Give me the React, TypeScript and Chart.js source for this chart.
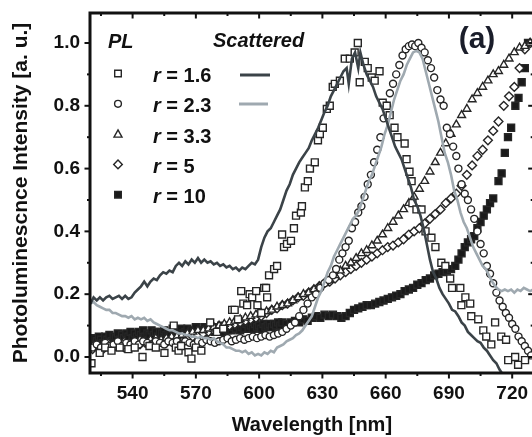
import React, { useEffect, useRef } from 'react';
import { Chart, registerables } from 'chart.js';

Chart.register(...registerables);

const FONT = "'Liberation Sans', Arial, Helvetica, sans-serif";

// ---- axis ticks ----
const xMajorTicks = [540, 570, 600, 630, 660, 690, 720];
const xMinorTicks = [525, 555, 585, 615, 645, 675, 705];
const yMajorTicks = [0, 0.2, 0.4, 0.6, 0.8, 1.0];
const yMinorTicks = [0.1, 0.3, 0.5, 0.7, 0.9];

// ---- legend labels ----
const legendRadii = ['1.6', '2.3', '3.3', '5', '10'];

// ---- Scattered spectrum, r = 1.6 (dark line) ----
const scattered16: [number, number][] = [
  [520, 0.17], [521.5, 0.19], [523, 0.18], [524.5, 0.19], [526, 0.18], [527.5, 0.19], [529, 0.195], [530.5, 0.185],
  [532, 0.19], [533.5, 0.195], [535, 0.185], [536.5, 0.195], [538, 0.185], [539.5, 0.19], [541, 0.205], [542.5, 0.215],
  [544, 0.225], [545.5, 0.24], [547, 0.225], [548.5, 0.24], [550, 0.25], [551.5, 0.245], [553, 0.26], [554.5, 0.27],
  [556, 0.265], [557.5, 0.275], [559, 0.27], [560.5, 0.29], [562, 0.3], [563.5, 0.29], [565, 0.305], [566.5, 0.295],
  [568, 0.31], [569.5, 0.3], [571, 0.315], [572.5, 0.3], [574, 0.31], [575.5, 0.3], [577, 0.305], [578.5, 0.295],
  [580, 0.3], [581.5, 0.29], [583, 0.295], [584.5, 0.285], [586, 0.29], [587.5, 0.28], [589, 0.285], [590.5, 0.275],
  [592, 0.285], [593.5, 0.28], [595, 0.29], [596.5, 0.3], [598, 0.295], [599.5, 0.31], [601, 0.35], [602.5, 0.38],
  [604, 0.4], [605.5, 0.41], [607, 0.43], [608.5, 0.45], [610, 0.47], [611.5, 0.5], [613, 0.53], [614.5, 0.55],
  [616, 0.58], [617.5, 0.6], [619, 0.62], [620.5, 0.635], [622, 0.65], [623.5, 0.665], [625, 0.69], [626.5, 0.71],
  [628, 0.73], [629.5, 0.755], [631, 0.78], [632.5, 0.8], [634, 0.83], [635.5, 0.85], [637, 0.87], [638.5, 0.89],
  [640, 0.91], [641.5, 0.92], [642.5, 0.87], [644, 0.95], [645.5, 0.97], [647, 0.92], [648, 0.97], [649.5, 0.93],
  [651, 0.9], [652.5, 0.88], [654, 0.86], [655.5, 0.83], [657, 0.81], [658.5, 0.79], [660, 0.76], [661.5, 0.73],
  [663, 0.7], [664.5, 0.67], [666, 0.65], [667.5, 0.63], [669, 0.6], [670.5, 0.57], [672, 0.54], [673.5, 0.5],
  [675, 0.48], [676.5, 0.45], [678, 0.41], [679.5, 0.36], [681, 0.31], [682.5, 0.27], [684, 0.25], [685.5, 0.22],
  [687, 0.2], [688.5, 0.185], [690, 0.17], [691.5, 0.15], [693, 0.145], [694.5, 0.13], [696, 0.11], [697.5, 0.1],
  [699, 0.08], [700.5, 0.07], [702, 0.06], [703.5, 0.05], [705, 0.045], [706.5, 0.03], [708, 0.02], [709.5, 0.005],
  [711, -0.01], [712.5, -0.02], [714, -0.04], [715, -0.05],
];

// ---- Scattered spectrum, r = 2.3 (light line) ----
const scattered23: [number, number][] = [
  [520, 0.17], [521.5, 0.175], [523, 0.165], [524.5, 0.16], [526, 0.155], [527.5, 0.15], [529, 0.15], [530.5, 0.14],
  [532, 0.14], [533.5, 0.135], [535, 0.13], [536.5, 0.13], [538, 0.125], [539.5, 0.13], [541, 0.12], [542.5, 0.125],
  [544, 0.12], [545.5, 0.125], [547, 0.115], [548.5, 0.12], [550, 0.11], [551.5, 0.105], [553, 0.1], [554.5, 0.095],
  [556, 0.09], [557.5, 0.085], [559, 0.085], [560.5, 0.08], [562, 0.075], [563.5, 0.075], [565, 0.07], [566.5, 0.07],
  [568, 0.065], [569.5, 0.065], [571, 0.06], [572.5, 0.065], [574, 0.06], [575.5, 0.06], [577, 0.055], [578.5, 0.06],
  [580, 0.05], [581.5, 0.045], [583, 0.04], [584.5, 0.03], [586, 0.03], [587.5, 0.025], [589, 0.02], [590.5, 0.02],
  [592, 0.015], [593.5, 0.02], [595, 0.01], [596.5, 0.015], [598, 0.005], [599.5, 0.01], [601, 0.005], [602.5, 0.015],
  [604, 0.01], [605.5, 0.02], [607, 0.015], [608.5, 0.03], [610, 0.035], [611.5, 0.04], [613, 0.05], [614.5, 0.055],
  [616, 0.06], [617.5, 0.07], [619, 0.075], [620.5, 0.085], [622, 0.1], [623.5, 0.115], [625, 0.13], [626.5, 0.16],
  [628, 0.19], [629.5, 0.21], [631, 0.24], [632.5, 0.27], [634, 0.29], [635.5, 0.32], [637, 0.34], [638.5, 0.36],
  [640, 0.38], [641.5, 0.4], [643, 0.42], [644.5, 0.44], [646, 0.45], [647.5, 0.47], [649, 0.5], [650.5, 0.53],
  [652, 0.56], [653.5, 0.58], [655, 0.61], [656.5, 0.64], [658, 0.67], [659.5, 0.71], [661, 0.74], [662.5, 0.78],
  [664, 0.82], [665.5, 0.85], [667, 0.88], [668.5, 0.9], [670, 0.93], [671.5, 0.95], [673, 0.97], [674.5, 0.975],
  [676, 0.97], [677.5, 0.95], [679, 0.91], [680.5, 0.87], [682, 0.83], [683.5, 0.79], [685, 0.75], [686.5, 0.7],
  [688, 0.65], [689.5, 0.62], [691, 0.58], [692.5, 0.53], [694, 0.5], [695.5, 0.46], [697, 0.43], [698.5, 0.41],
  [700, 0.38], [701.5, 0.35], [703, 0.33], [704.5, 0.31], [706, 0.29], [707.5, 0.28], [709, 0.26], [710.5, 0.24],
  [712, 0.225], [713.5, 0.215], [715, 0.21], [716.5, 0.215], [718, 0.21], [719.5, 0.215], [721, 0.205], [722.5, 0.215],
  [724, 0.21], [725.5, 0.22], [727, 0.215], [728.5, 0.21], [730, 0.215],
];

// ---- PL, r = 1.6 (open squares) ----
const pl16: [number, number][] = [
  [520.5, -0.02], [524.4, 0.013], [527, 0.03], [530, 0.02], [533.9, 0.03], [538, 0.025], [541, 0.03], [544.7, 0.0],
  [548, 0.035], [551, 0.03], [555.1, 0.013], [559.5, 0.1], [560.5, 0.03], [561.8, 0.02], [563, 0.035], [566.5, 0.015],
  [567.9, -0.005], [570, 0.03], [572.6, 0.02], [576.8, 0.11], [580, 0.08], [583, 0.09], [587.2, 0.15], [588.4, 0.15],
  [590, 0.12], [591.5, 0.21], [592.5, 0.17], [594.3, 0.165], [595.5, 0.2], [596.7, 0.19], [598.6, 0.21], [599.2, 0.165],
  [601, 0.14], [602.4, 0.22], [603.3, 0.22], [603.8, 0.19], [604.7, 0.26], [607.1, 0.28], [608.5, 0.29], [610.9, 0.39],
  [611.8, 0.35], [613.2, 0.36], [615.1, 0.37], [616.5, 0.41], [617.5, 0.45], [619.8, 0.46], [620.3, 0.48], [621.7, 0.54],
  [623.1, 0.56], [624.1, 0.6], [626.4, 0.62], [627.9, 0.69], [628.8, 0.71], [630.2, 0.73], [632.1, 0.79], [633.5, 0.8],
  [634.9, 0.86], [635.9, 0.87], [638.3, 0.88], [640.6, 0.95], [643, 0.95], [645.3, 0.97], [646.8, 1.0], [647.7, 0.875],
  [650.1, 0.94], [651.5, 0.92], [653.4, 0.89], [654.8, 0.88], [657.1, 0.91], [658.6, 0.81], [660.5, 0.8], [661.9, 0.77],
  [664.2, 0.73], [665.6, 0.7], [669, 0.68], [669.9, 0.63], [671.3, 0.59], [672.3, 0.56], [672.7, 0.49], [674.6, 0.47],
  [677, 0.47], [678.9, 0.4], [681.7, 0.38], [683.6, 0.35], [686.4, 0.3], [688.3, 0.29], [690.6, 0.25], [691.5, 0.22],
  [695.4, 0.22], [695.9, 0.165], [697.8, 0.19], [700.1, 0.17], [700.6, 0.13], [703.9, 0.12], [706.3, 0.085], [707.7, 0.065],
  [710.1, 0.04], [711.9, 0.11], [714.8, 0.065], [717.1, 0.055], [718.1, -0.01], [721.4, 0.0], [722.8, -0.025], [726.1, -0.01],
];

// ---- PL, r = 2.3 (open circles) ----
const pl23: [number, number][] = [
  [521, 0.03], [523, 0.04], [525, 0.03], [527, 0.045], [529, 0.035], [531, 0.04], [533, 0.05], [535, 0.035],
  [537, 0.045], [539, 0.04], [541, 0.05], [543, 0.04], [545, 0.05], [547, 0.045], [549, 0.04], [551, 0.05],
  [553, 0.045], [555, 0.04], [557, 0.05], [559, 0.045], [561, 0.05], [563, 0.04], [565, 0.05], [567, 0.045],
  [569, 0.04], [571, 0.05], [573, 0.045], [575, 0.055], [577, 0.05], [579, 0.045], [581, 0.05], [583, 0.055],
  [585, 0.06], [587, 0.05], [589, 0.055], [591, 0.06], [593, 0.055], [595, 0.06], [597, 0.065], [599, 0.06],
  [601, 0.065], [603, 0.07], [605, 0.065], [607, 0.07], [609, 0.075], [611, 0.08], [613, 0.09], [615, 0.1],
  [617, 0.11], [619, 0.13], [621, 0.15], [623, 0.17], [625, 0.19], [627, 0.2], [629, 0.22], [631, 0.235],
  [633, 0.245], [635, 0.26], [636.5, 0.28], [638, 0.31], [639.5, 0.33], [641, 0.35], [642.5, 0.37], [644, 0.41],
  [645.5, 0.43], [647, 0.46], [648.5, 0.48], [650, 0.51], [651.5, 0.55], [653, 0.58], [654.5, 0.62], [656, 0.66],
  [657.5, 0.7], [659, 0.76], [660.5, 0.8], [662, 0.84], [663.5, 0.87], [665, 0.9], [666.5, 0.93], [668, 0.96],
  [669.5, 0.98], [671, 0.99], [672.5, 0.995], [674, 0.99], [675.5, 1.0], [677, 0.985], [678.5, 0.97], [680, 0.945],
  [681.5, 0.92], [683, 0.89], [684.5, 0.85], [686, 0.82], [687.5, 0.8], [689, 0.73], [690.5, 0.71], [692, 0.67],
  [693.5, 0.64], [694.5, 0.6], [696, 0.55], [697.5, 0.52], [699, 0.5], [700.5, 0.47], [702, 0.44], [703.5, 0.4],
  [705, 0.36], [706.5, 0.33], [708, 0.29], [709.5, 0.265], [711, 0.235], [712.5, 0.205], [714, 0.18], [715.5, 0.16],
  [717, 0.14], [718.5, 0.125], [720, 0.105], [721.5, 0.09], [723, 0.065], [724.5, 0.05], [726, 0.035], [727.5, 0.02],
  [729, 0.005],
];

// ---- PL, r = 3.3 (open triangles) ----
const pl33: [number, number][] = [
  [521, 0.035], [523.5, 0.04], [526, 0.035], [528.5, 0.045], [531, 0.04], [533.5, 0.045], [536, 0.05], [538.5, 0.045],
  [541, 0.05], [543.5, 0.055], [546, 0.05], [548.5, 0.055], [551, 0.06], [553.5, 0.055], [556, 0.06], [558.5, 0.065],
  [561, 0.065], [563.5, 0.07], [566, 0.075], [568.5, 0.08], [571, 0.085], [573.5, 0.085], [576, 0.09], [578.5, 0.095],
  [581, 0.1], [583.5, 0.105], [586, 0.11], [588.5, 0.115], [591, 0.12], [593.5, 0.125], [596, 0.13], [598.5, 0.135],
  [601, 0.14], [603.5, 0.145], [606, 0.15], [608.5, 0.16], [611, 0.165], [613.5, 0.17], [616, 0.18], [618.5, 0.19],
  [621, 0.2], [623.5, 0.205], [626, 0.215], [628.5, 0.225], [631, 0.235], [633.5, 0.245], [636, 0.26], [638.5, 0.275],
  [641, 0.29], [643.5, 0.3], [646, 0.315], [648.5, 0.33], [651, 0.34], [653.5, 0.355], [656, 0.37], [658.5, 0.39],
  [661, 0.41], [663.5, 0.43], [666, 0.45], [668.5, 0.47], [671, 0.49], [673.5, 0.51], [676, 0.535], [678.5, 0.56],
  [681, 0.59], [683.5, 0.62], [686, 0.65], [688.5, 0.68], [691, 0.71], [693.5, 0.74], [696, 0.77], [698.5, 0.79],
  [701, 0.82], [703.5, 0.84], [706, 0.86], [708.5, 0.88], [711, 0.9], [713.5, 0.91], [716, 0.93], [718.5, 0.95],
  [721, 0.97], [723.5, 0.985], [726, 0.99], [728.5, 1.0],
];

// ---- PL, r = 5 (open diamonds) ----
const pl5: [number, number][] = [
  [521, 0.025], [523.5, 0.03], [526, 0.025], [528.5, 0.035], [531, 0.03], [533.5, 0.035], [536, 0.03], [538.5, 0.04],
  [541, 0.035], [543.5, 0.04], [546, 0.045], [548.5, 0.04], [551, 0.045], [553.5, 0.05], [556, 0.045], [558.5, 0.05],
  [561, 0.055], [563.5, 0.05], [566, 0.06], [568.5, 0.065], [571, 0.07], [573.5, 0.075], [576, 0.08], [578.5, 0.085],
  [581, 0.09], [583.5, 0.095], [586, 0.1], [588.5, 0.105], [591, 0.11], [593.5, 0.115], [596, 0.12], [598.5, 0.125],
  [601, 0.13], [603.5, 0.14], [606, 0.15], [608.5, 0.155], [611, 0.165], [613.5, 0.17], [616, 0.18], [618.5, 0.19],
  [621, 0.195], [623.5, 0.205], [626, 0.215], [628.5, 0.225], [631, 0.235], [633.5, 0.24], [636, 0.25], [638.5, 0.26],
  [641, 0.27], [643.5, 0.28], [646, 0.29], [648.5, 0.3], [651, 0.31], [653.5, 0.32], [656, 0.33], [658.5, 0.34],
  [661, 0.35], [663.5, 0.355], [666, 0.365], [668.5, 0.375], [671, 0.39], [673.5, 0.4], [676, 0.41], [678.5, 0.425],
  [681, 0.44], [683.5, 0.455], [686, 0.47], [688.5, 0.49], [691, 0.505], [693.5, 0.52], [696, 0.545], [698.5, 0.58],
  [701, 0.61], [703.5, 0.64], [706, 0.66], [708.5, 0.69], [711, 0.72], [713.5, 0.75], [716, 0.8], [718.5, 0.83],
  [721, 0.86], [723.5, 0.92], [726, 0.98], [728.5, 1.0],
];

// ---- PL, r = 10 (filled squares) ----
const pl10: [number, number][] = [
  [521, 0.045], [522, 0.06], [523, 0.05], [524, 0.065], [525, 0.055], [526, 0.045], [527, 0.065], [528, 0.055],
  [529, 0.07], [530, 0.05], [531, 0.065], [532, 0.06], [533, 0.075], [534, 0.055], [535, 0.07], [536, 0.06],
  [537, 0.075], [538, 0.065], [539, 0.08], [540, 0.06], [541, 0.075], [542, 0.065], [543, 0.08], [544, 0.07],
  [545, 0.085], [546, 0.065], [547, 0.075], [548, 0.07], [549, 0.085], [550, 0.07], [551, 0.08], [552, 0.065],
  [553, 0.08], [554, 0.075], [555, 0.085], [556, 0.07], [557, 0.08], [558, 0.075], [559, 0.09], [560, 0.07],
  [561, 0.085], [562, 0.075], [563, 0.09], [564, 0.075], [565, 0.08], [566, 0.09], [567, 0.075], [568, 0.085],
  [569, 0.08], [570, 0.095], [571, 0.075], [572, 0.085], [573, 0.08], [574, 0.095], [575, 0.08], [576, 0.09],
  [577, 0.085], [578, 0.095], [579, 0.08], [580, 0.09], [581, 0.085], [582, 0.1], [583, 0.08], [584, 0.09],
  [585, 0.085], [586, 0.1], [587, 0.085], [588, 0.095], [589, 0.09], [590, 0.1], [591, 0.085], [592, 0.095],
  [593, 0.09], [594, 0.105], [595, 0.09], [596, 0.1], [597, 0.09], [598, 0.105], [599, 0.095], [600, 0.1],
  [601, 0.09], [602, 0.105], [603, 0.095], [604, 0.1], [605, 0.105], [606, 0.095], [607, 0.105], [608, 0.1],
  [609, 0.11], [610, 0.1], [611, 0.11], [613, 0.105], [615, 0.11], [617, 0.115], [619, 0.11],
  [621, 0.12], [623, 0.115], [625, 0.125], [627, 0.13], [629, 0.125], [631, 0.135], [633, 0.13], [635, 0.135],
  [637, 0.13], [639, 0.125], [641, 0.13], [643, 0.14], [645, 0.15], [647, 0.155], [649, 0.16], [651, 0.165],
  [653, 0.165], [655, 0.17], [657, 0.175], [659, 0.18], [661, 0.185], [663, 0.19], [665, 0.195], [667, 0.2],
  [669, 0.21], [671, 0.215], [673, 0.22], [675, 0.23], [677, 0.235], [679, 0.245], [681, 0.25], [683, 0.26],
  [685, 0.265], [687, 0.27], [689, 0.275], [691, 0.28], [693, 0.29], [694.5, 0.31], [696, 0.33], [697.5, 0.35],
  [699, 0.365], [700.5, 0.375], [702, 0.385], [703.5, 0.41], [705, 0.43], [706.5, 0.45], [708, 0.47], [709.5, 0.49],
  [711, 0.505], [713.5, 0.56], [715, 0.585], [716.5, 0.65], [718, 0.7], [719.5, 0.73], [721.5, 0.8], [723, 0.825],
  [724.5, 0.875], [726, 0.92], [727.5, 1.0],
];

const DARK_LINE = '#3b4348';
const LIGHT_LINE = '#9fa9b0';
const MARK = '#262626';

const toPts = (arr: [number, number][]) => arr.map(([x, y]) => ({ x, y }));

function drawMarker(ctx: CanvasRenderingContext2D, kind: string, cx: number, cy: number) {
  ctx.save();
  ctx.lineWidth = 1.4;
  ctx.strokeStyle = MARK;
  ctx.fillStyle = kind === 'filled' ? '#1a1a1a' : '#fff';
  ctx.beginPath();
  if (kind === 'rect' || kind === 'filled') {
    ctx.rect(cx - 3.3, cy - 3.3, 6.6, 6.6);
  } else if (kind === 'circle') {
    ctx.arc(cx, cy, 3.4, 0, Math.PI * 2);
  } else if (kind === 'triangle') {
    ctx.moveTo(cx, cy - 4.2);
    ctx.lineTo(cx + 4, cy + 3);
    ctx.lineTo(cx - 4, cy + 3);
    ctx.closePath();
  } else if (kind === 'diamond') {
    ctx.moveTo(cx, cy - 4.3);
    ctx.lineTo(cx + 4.3, cy);
    ctx.lineTo(cx, cy + 4.3);
    ctx.lineTo(cx - 4.3, cy);
    ctx.closePath();
  }
  ctx.fill();
  ctx.stroke();
  ctx.restore();
}

const decorPlugin = {
  id: 'decor',
  afterDraw(chart: any) {
    const { ctx, chartArea: a } = chart;
    const xs = chart.scales.x;
    const ys = chart.scales.y;
    ctx.save();
    ctx.strokeStyle = '#111';
    ctx.lineCap = 'butt';
    const seg = (x1: number, y1: number, x2: number, y2: number) => {
      ctx.beginPath();
      ctx.moveTo(x1, y1);
      ctx.lineTo(x2, y2);
      ctx.stroke();
    };
    ctx.lineWidth = 2;
    const xt = [...xMajorTicks.map((v) => [v, 5.5]), ...xMinorTicks.map((v) => [v, 3])];
    xt.forEach(([v, len]) => {
      const px = xs.getPixelForValue(v);
      if (px < a.left || px > a.right) return;
      seg(px, a.bottom, px, a.bottom + len);
      seg(px, a.top, px, a.top + len);
    });
    const yt = [...yMajorTicks.map((v) => [v, 5.5]), ...yMinorTicks.map((v) => [v, 3])];
    yt.forEach(([v, len]) => {
      const py = ys.getPixelForValue(v);
      seg(a.left - len, py, a.left, py);
      seg(a.right - len, py, a.right, py);
    });
    ctx.lineWidth = 3;
    ctx.strokeRect(a.left, a.top, a.right - a.left, a.bottom - a.top);

    // legend
    ctx.fillStyle = '#111';
    ctx.textBaseline = 'alphabetic';
    ctx.textAlign = 'left';
    ctx.font = `italic bold 20px ${FONT}`;
    ctx.fillText('PL', 108, 48);
    ctx.fillText('Scattered', 213, 47);
    const kinds = ['rect', 'circle', 'triangle', 'diamond', 'filled'];
    legendRadii.forEach((r, i) => {
      const base = 82 + i * 30.3;
      drawMarker(ctx, kinds[i], 118, base - 8.5);
      ctx.fillStyle = '#111';
      ctx.font = `italic bold 20px ${FONT}`;
      ctx.fillText('r', 153, base);
      const rw = ctx.measureText('r').width;
      ctx.font = `bold 20px ${FONT}`;
      ctx.fillText(' = ' + r, 153 + rw, base);
    });
    ctx.lineWidth = 3;
    ctx.strokeStyle = DARK_LINE;
    seg(240, 75, 270, 75);
    ctx.strokeStyle = LIGHT_LINE;
    seg(239, 104, 268, 104);

    ctx.fillStyle = '#1a1d2a';
    ctx.font = `bold 30px ${FONT}`;
    ctx.textAlign = 'center';
    ctx.fillText('(a)', 477, 48);
    ctx.restore();
  },
};

export default function App() {
  const ref = useRef<HTMLCanvasElement>(null);
  useEffect(() => {
    if (!ref.current) return;
    const markerDs = (label: string, data: [number, number][], style: any, radius: number, filled = false) => ({
      label,
      data: toPts(data),
      showLine: false,
      pointStyle: style,
      pointRadius: radius,
      pointBorderWidth: 1.4,
      pointBorderColor: MARK,
      pointBackgroundColor: filled ? '#1a1a1a' : '#ffffff',
    });
    const lineDs = (label: string, data: [number, number][], color: string) => ({
      label,
      data: toPts(data),
      showLine: true,
      borderColor: color,
      borderWidth: 2.6,
      pointRadius: 0,
      tension: 0,
    });
    const chart = new Chart(ref.current, {
      type: 'scatter',
      data: {
        datasets: [
          lineDs('Scattered r = 1.6', scattered16, DARK_LINE),
          lineDs('Scattered r = 2.3', scattered23, LIGHT_LINE),
          markerDs('PL r = 1.6', pl16, 'rect', 4.9),
          markerDs('PL r = 2.3', pl23, 'circle', 3.5),
          markerDs('PL r = 3.3', pl33, 'triangle', 4.5),
          markerDs('PL r = 5', pl5, 'rectRot', 4.4),
          markerDs('PL r = 10', pl10, 'rect', 4.9, true),
        ] as any,
      },
      plugins: [decorPlugin],
      options: {
        responsive: false,
        animation: false,
        devicePixelRatio: 1,
        events: [],
        layout: { padding: { left: 0, top: 13, right: 5, bottom: 0 } },
        plugins: { legend: { display: false }, tooltip: { enabled: false } },
        scales: {
          x: {
            type: 'linear',
            min: 519.8,
            max: 730.2,
            grid: { display: false, drawTicks: false },
            border: { display: false },
            afterBuildTicks: (s: any) => {
              s.ticks = xMajorTicks.map((v) => ({ value: v }));
            },
            afterFit: (s: any) => {
              s.height = 64;
              s.paddingLeft = 0;
              s.paddingRight = 0;
            },
            ticks: {
              autoSkip: false,
              maxRotation: 0,
              padding: 9,
              color: '#111',
              font: { family: FONT, size: 19, weight: 'bold' },
              callback: (v: any) => String(v),
            },
            title: {
              display: true,
              text: 'Wavelength [nm]',
              color: '#111',
              font: { family: FONT, size: 20, weight: 'bold' },
              padding: { top: 0, bottom: 0 },
            },
          },
          y: {
            type: 'linear',
            min: -0.051,
            max: 1.0955,
            grid: { display: false, drawTicks: false },
            border: { display: false },
            afterBuildTicks: (s: any) => {
              s.ticks = yMajorTicks.map((v) => ({ value: v }));
            },
            afterFit: (s: any) => {
              s.width = 90;
              s.paddingTop = 0;
              s.paddingBottom = 0;
            },
            ticks: {
              autoSkip: false,
              padding: 10,
              color: '#111',
              font: { family: FONT, size: 19, weight: 'bold' },
              callback: (v: any) => Number(v).toFixed(1),
            },
            title: {
              display: true,
              text: 'Photoluminescnce Intensity [a. u.]',
              color: '#111',
              font: { family: FONT, size: 21, weight: 'bold' },
              padding: { top: 9, bottom: 0 },
            },
          },
        },
      } as any,
    });
    return () => chart.destroy();
  }, []);
  return (
    <div style={{ position: 'fixed', left: 0, top: 0, width: 532, height: 437, overflow: 'hidden', background: '#fff' }}>
      <canvas ref={ref} width={540} height={437} style={{ display: 'block', width: 540, height: 437 }} />
    </div>
  );
}
